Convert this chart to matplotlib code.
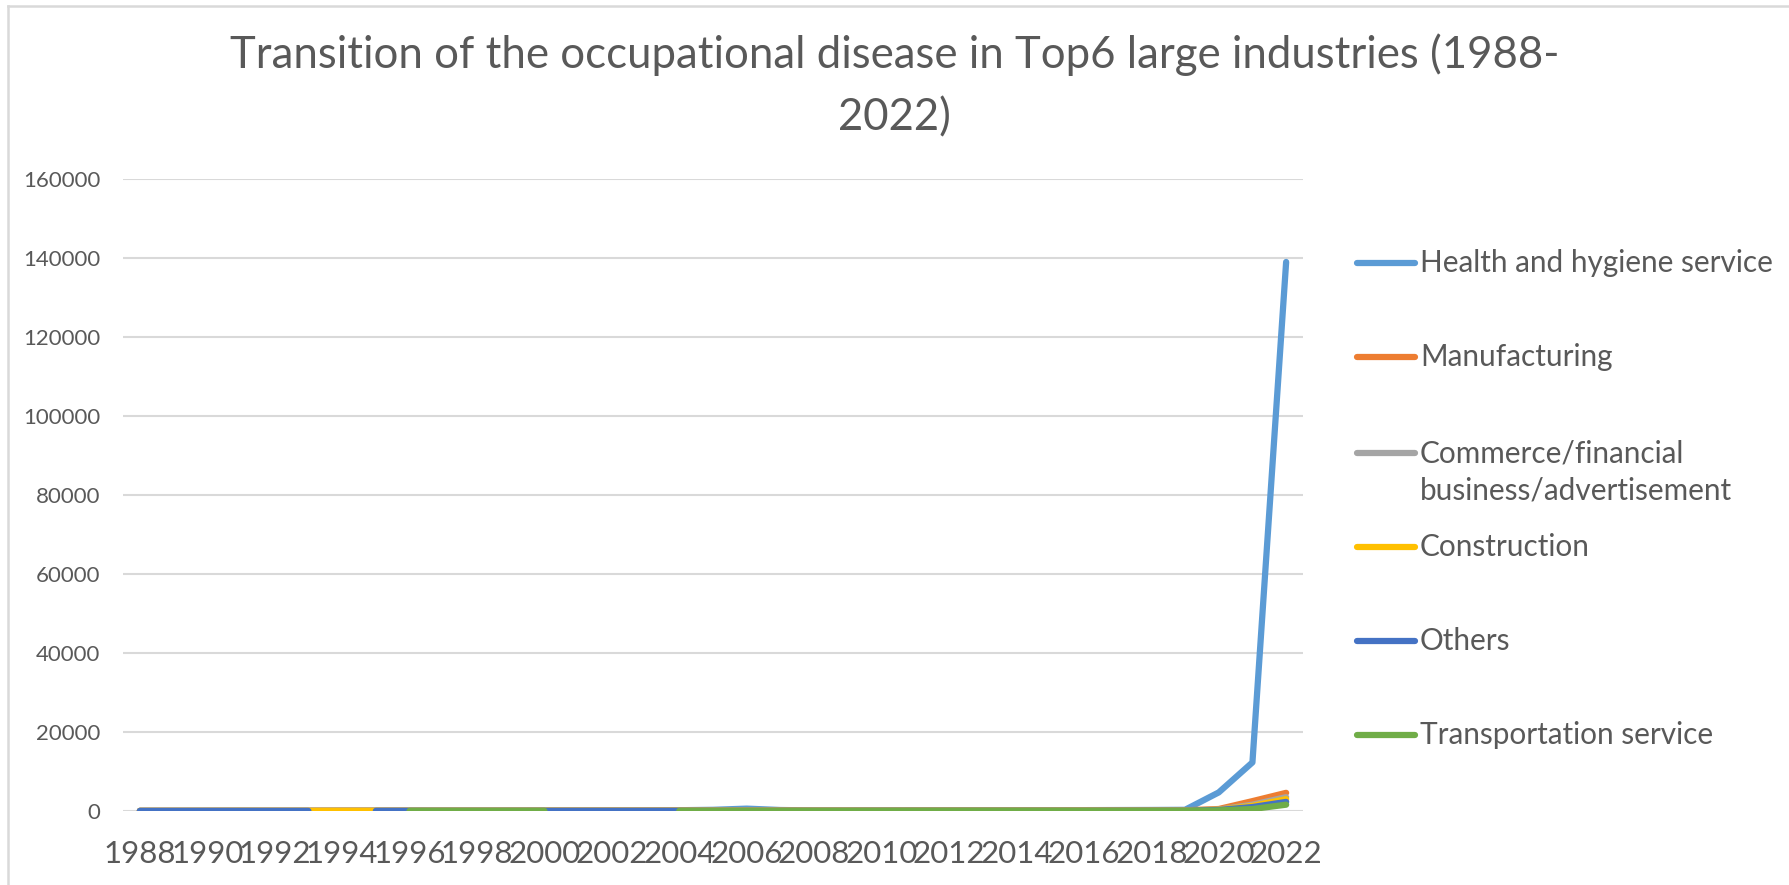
import numpy as np
import matplotlib
matplotlib.use('Agg')
import matplotlib.pyplot as plt
from matplotlib.lines import Line2D

nan = np.nan

years = list(range(1988, 2023))

# values (early years are all close to zero on this scale)
health = [60, 70, 80, 90, 80, 90, 100, 110, 120, 110, 100, 120, 130, 140, 150, 160, 200,
          300, 600, 250, 150, 140, 150, 160, 170, 180, 190, 200, 220, 240, 260, 300,
          4700, 12300, 139000]
manufacturing = [40, 50, 50, 60, 60, 60, 70, 70, 80, 80, 80, 90, 90, 90, 100, 100, 100,
                 110, 110, 110, 100, 100, 100, 100, 110, 110, 120, 120, 130, 140, 150, 170,
                 500, 2500, 4600]
commerce = [20, 20, 30, 30, 30, 30, 30, 40, 40, 40, 40, 40, 50, 50, 50, 50, 50,
            60, 60, 60, 60, 60, 60, 60, 70, 70, 70, 70, 80, 80, 90, 100,
            350, 1600, 3500]
construction = [30, 30, 30, 40, 40, 40, 40, 40, 40, 50, 50, 50, 50, 50, 50, 50, 60,
                60, 60, 60, 60, 60, 60, 70, 70, 70, 70, 70, 80, 80, 80, 90,
                300, 1300, 3000]
others = [20, 20, 20, 20, 20, 20, nan, 30, 30, 30, 30, 30, 30, 30, 30, 30, 30,
          30, 30, 30, 30, 30, 40, 40, 40, 40, 40, 40, 40, 50, 50, 60,
          250, 1000, 2300]
transport = [nan, nan, nan, nan, nan, nan, nan, nan, 20, 20, 20, 20, 20, nan, nan, nan, 20,
             20, 20, 20, 20, 20, 20, 30, 30, 30, 30, 30, 30, 30, 40, 40,
             150, 500, 1600]

names = ['Health and hygiene service', 'Manufacturing',
         'Commerce/financial\nbusiness/advertisement', 'Construction',
         'Others', 'Transportation service']
colors = ['#5B9BD5', '#ED7D31', '#A5A5A5', '#FFC000', '#4472C4', '#70AD47']
series = [health, manufacturing, commerce, construction, others, transport]

font = 'Lato'
txt = '#595959'
W, H = 1789, 885

fig = plt.figure(figsize=(W / 100, H / 100), dpi=100)
# plot area in pixels: x 123..1303, y 179..811 (from top)
ax = fig.add_axes([123 / W, (H - 811) / H, (1303 - 123) / W, (811 - 179) / H])

x = np.arange(len(years))
for s, c in zip(series, colors):
    ax.plot(x, s, color=c, lw=4.5, solid_capstyle='round', solid_joinstyle='round')

ax.set_xlim(-0.5, len(years) - 0.5)
ax.set_ylim(0, 160000)
ax.set_yticks(np.arange(0, 160001, 20000))
ax.set_yticklabels([str(v) for v in range(0, 160001, 20000)], fontfamily=font,
                   fontsize=16, color=txt)
ax.set_xticks(x[::2])
ax.set_xticklabels([str(y) for y in years[::2]], fontfamily=font, fontsize=22.5, color=txt)
ax.tick_params(axis='both', length=0)
ax.tick_params(axis='y', pad=16.5)
ax.tick_params(axis='x', pad=21)
ax.grid(axis='y', color='#D9D9D9', lw=1.5)
ax.set_axisbelow(True)
for sp in ax.spines.values():
    sp.set_visible(False)

# title
fig.text(0.5, 1 - 86 / H, 'Transition of the occupational disease in Top6 large industries (1988-\n2022)',
         ha='center', va='center', fontfamily=font, fontsize=31.5,
         color=txt, linespacing=1.65)

# legend drawn by hand so the two-line label keeps its line beside the first line
leg_px = [263, 357, 453, 547, 641, 735]
for nm, c, yp in zip(names, colors, leg_px):
    yy = 1 - yp / H
    fig.add_artist(Line2D([1357 / W, 1415 / W], [yy, yy], color=c, lw=4.5,
                          solid_capstyle='round', transform=fig.transFigure))
    for i, part in enumerate(nm.split('\n')):
        fig.text(1420 / W, yy - i * 37.6 / H, part, ha='left', va='center',
                 fontfamily=font, fontsize=21.4, color=txt)

# chart border (only top and left edges show in the picture)
fig.add_artist(Line2D([8 / W, 1], [1 - 6 / H, 1 - 6 / H], color='#D9D9D9', lw=1.8,
                      transform=fig.transFigure))
fig.add_artist(Line2D([8 / W, 8 / W], [0, 1 - 6 / H], color='#D9D9D9', lw=1.8,
                      transform=fig.transFigure))

fig.savefig('out.png', dpi=100)
